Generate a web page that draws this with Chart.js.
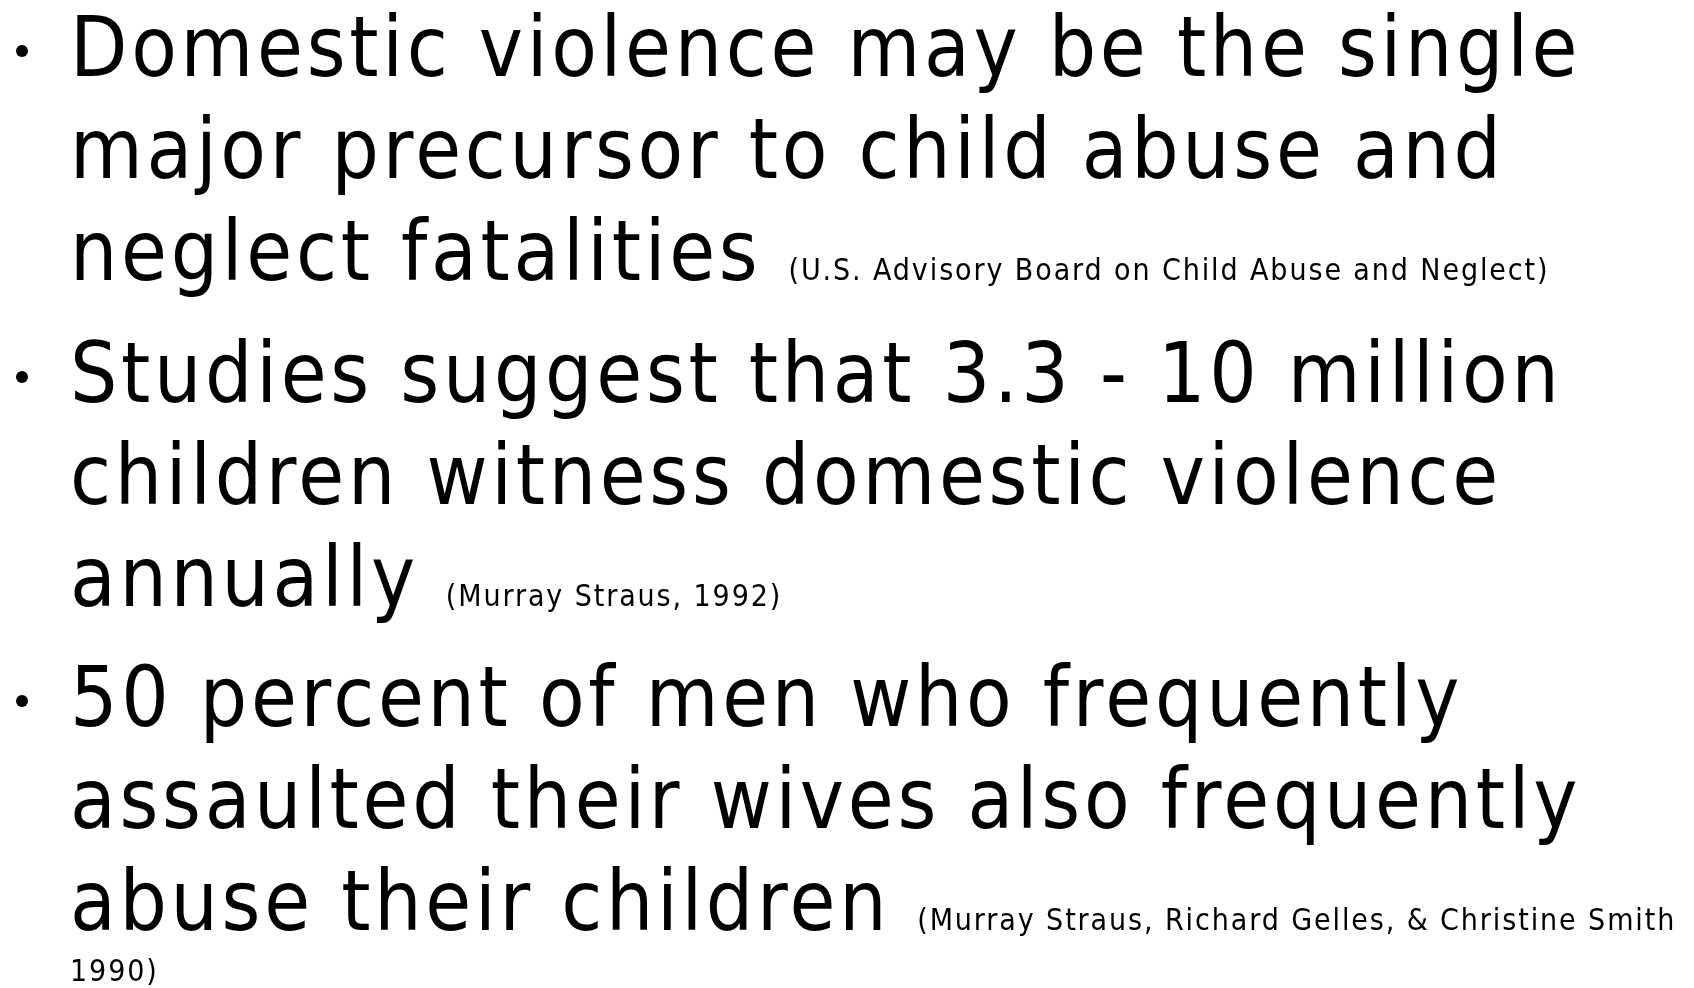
<!DOCTYPE html>
<html>
<head>
<meta charset="utf-8">
<script src="https://cdn.jsdelivr.net/npm/chart.js@4"></script>
<style>
  html, body { margin: 0; padding: 0; background: #fff; }
  body { width: 1694px; height: 988px; overflow: hidden; position: relative; }
  #bg { position: absolute; left: 0; top: 0; width: 1694px; height: 988px; }
  #slide { position: absolute; left: 0; top: 0; width: 1694px; height: 988px; font-family: "DejaVu Sans Condensed", "DejaVu Sans", sans-serif; color: #000; }
  .line { position: absolute; white-space: nowrap; line-height: 1; }
  .big { font-size: 83px; letter-spacing: 3.7px; }
  .cite { font-size: 30px; letter-spacing: 1.9px; }
  .dot { position: absolute; width: 12px; height: 12px; border-radius: 50%; background: #000; }
</style>
</head>
<body>
<canvas id="bg" width="1694" height="988"></canvas>
<div id="slide"></div>
<script>
// Slide content
const bullet1Lines = ["Domestic violence may be the single", "major precursor to child abuse and", "neglect fatalities"];
const bullet1Cite = ["(U.S. Advisory Board on Child Abuse and Neglect)"];
const bullet2Lines = ["Studies suggest that 3.3 - 10 million", "children witness domestic violence", "annually"];
const bullet2Cite = ["(Murray Straus, 1992)"];
const bullet3Lines = ["50 percent of men who frequently", "assaulted their wives also frequently", "abuse their children"];
const bullet3Cite = ["(Murray Straus, Richard Gelles, & Christine Smith", "1990)"];

// Empty Chart.js surface behind the text
new Chart(document.getElementById('bg'), {
  type: 'scatter',
  data: { datasets: [] },
  options: {
    responsive: false, animation: false,
    plugins: { legend: { display: false }, tooltip: { enabled: false } },
    scales: { x: { display: false }, y: { display: false } }
  }
});

const slide = document.getElementById('slide');
const FS = 83, CFS = 30, LEFT = 70, LH = 102;
const paras = [
  { lines: bullet1Lines, cite: bullet1Cite, base: 76 },
  { lines: bullet2Lines, cite: bullet2Cite, base: 402 },
  { lines: bullet3Lines, cite: bullet3Cite, base: 726 }
];
function addLine(text, cls, fs, x, baseline) {
  const d = document.createElement('div');
  d.className = 'line ' + cls;
  d.textContent = text;
  d.style.left = x + 'px';
  d.style.top = (baseline - 0.846 * fs) + 'px';
  slide.appendChild(d);
  return d;
}
paras.forEach(p => {
  const dot = document.createElement('div');
  dot.className = 'dot';
  dot.style.left = '16px';
  dot.style.top = (p.base - 25 - 6) + 'px';
  slide.appendChild(dot);
  let last;
  p.lines.forEach((t, i) => { last = addLine(t, 'big', FS, LEFT, p.base + i * LH); });
  const lastBase = p.base + (p.lines.length - 1) * LH;
  const w = last.getBoundingClientRect().width;
  addLine(p.cite[0], 'cite', CFS, LEFT + w + 27, lastBase);
  if (p.cite[1]) addLine(p.cite[1], 'cite', CFS, LEFT, lastBase + 51);
});
</script>
</body>
</html>
